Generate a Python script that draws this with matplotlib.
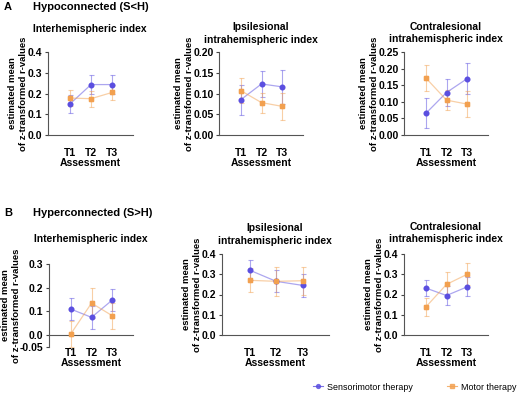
import matplotlib
matplotlib.use("Agg")
import matplotlib.pyplot as plt
import numpy as np

plt.rcParams['font.family'] = ['Liberation Sans', 'DejaVu Sans']

W, H = 520, 394

timepoints = ["T1", "T2", "T3"]
x = np.array([1, 2, 3])

# estimated means and error half-widths, per panel
a1_sens = [0.150, 0.243, 0.243]
a1_sens_err = [0.045, 0.047, 0.046]
a1_mot = [0.178, 0.175, 0.205]
a1_mot_err = [0.037, 0.038, 0.037]

a2_sens = [0.085, 0.123, 0.116]
a2_sens_err = [0.036, 0.032, 0.041]
a2_mot = [0.107, 0.078, 0.069]
a2_mot_err = [0.030, 0.024, 0.033]

a3_sens = [0.065, 0.128, 0.170]
a3_sens_err = [0.045, 0.041, 0.048]
a3_mot = [0.172, 0.105, 0.093]
a3_mot_err = [0.038, 0.030, 0.040]

b1_sens = [0.110, 0.075, 0.148]
b1_sens_err = [0.047, 0.047, 0.045]
b1_mot = [0.005, 0.135, 0.082]
b1_mot_err = [0.055, 0.062, 0.055]

b2_sens = [0.320, 0.265, 0.245]
b2_sens_err = [0.048, 0.055, 0.055]
b2_mot = [0.270, 0.265, 0.268]
b2_mot_err = [0.060, 0.072, 0.068]

b3_sens = [0.232, 0.195, 0.238]
b3_sens_err = [0.038, 0.047, 0.047]
b3_mot = [0.138, 0.250, 0.300]
b3_mot_err = [0.043, 0.061, 0.055]

blue = "#5b4fe0"
orange = "#f2a04f"


def px_axes(x0, x1, ytop, ybot):
    return [x0 / W, 1 - ybot / H, (x1 - x0) / W, (ybot - ytop) / H]


def panel(fig, rect, sens, sens_err, mot, mot_err, ylim, yticks, yticklabels,
          title, title_xy, ylabel_dx, zero_line=False):
    ax = fig.add_axes(rect)
    if zero_line:
        ax.spines["bottom"].set_position(("data", 0))
    ax.errorbar(x, sens, yerr=sens_err, color=blue, marker="o", ms=3.2,
                lw=0.9, elinewidth=0.8, capsize=1.8, capthick=0.8, alpha=0.5,
                zorder=3)
    ax.plot(x, sens, "o", color=blue, ms=3.2, zorder=4)
    ax.errorbar(x, mot, yerr=mot_err, color=orange, marker="s", ms=3.2,
                lw=0.9, elinewidth=0.8, capsize=1.8, capthick=0.8, alpha=0.5,
                zorder=3)
    ax.plot(x, mot, "s", color=orange, ms=3.2, zorder=4)
    ax.set_xlim(-0.05, 4.0)
    ax.set_ylim(*ylim)
    ax.set_yticks(yticks)
    ax.set_yticklabels(yticklabels, fontsize=7.5, fontweight="bold")
    ax.set_xticks(x)
    ax.set_xticklabels(timepoints, fontsize=7.5, fontweight="bold")
    ax.tick_params(axis="x", length=0, pad=9)
    ax.tick_params(axis="y", length=2.5, width=0.8, pad=1.5, color="#444444")
    for s in ["top", "right"]:
        ax.spines[s].set_visible(False)
    for s in ["left", "bottom"]:
        ax.spines[s].set_color("#555555")
        ax.spines[s].set_linewidth(0.8)
    ax.set_xlabel("Assessment", fontsize=7.5, fontweight="bold", labelpad=0)
    ax.set_ylabel("estimated mean\nof z-transformed r-values", fontsize=6.8,
                  fontweight="bold", linespacing=1.3, va="center")
    ax.yaxis.set_label_coords(-ylabel_dx / (rect[2] * W), 0.5)
    fig.text(title_xy[0] / W, 1 - title_xy[1] / H, title, ha="center",
             va="center", fontsize=7.4, fontweight="bold", linespacing=1.3)
    return ax


fig = plt.figure(figsize=(W / 100, H / 100), dpi=100)

fig.text(4 / W, 1 - 7 / H, "A", fontsize=8, fontweight="bold", va="center")
fig.text(33 / W, 1 - 7 / H, "Hypoconnected (S<H)", fontsize=8,
         fontweight="bold", va="center")
fig.text(4 / W, 1 - 213 / H, "B", fontsize=8, fontweight="bold", va="center")
fig.text(33 / W, 1 - 213 / H, "Hyperconnected (S>H)", fontsize=8,
         fontweight="bold", va="center")

panel(fig, px_axes(48, 133, 52, 135), a1_sens, a1_sens_err, a1_mot, a1_mot_err,
      (0, 0.4), [0, 0.1, 0.2, 0.3, 0.4], ["0.0", "0.1", "0.2", "0.3", "0.4"],
      "Interhemispheric index", (90, 28.5), 30)
panel(fig, px_axes(219, 303, 52, 135), a2_sens, a2_sens_err, a2_mot, a2_mot_err,
      (0, 0.2), [0, 0.05, 0.1, 0.15, 0.2],
      ["0.00", "0.05", "0.10", "0.15", "0.20"],
      "Ipsilesional\nintrahemispheric index", (261, 33.5), 35)
panel(fig, px_axes(404, 488, 52, 135), a3_sens, a3_sens_err, a3_mot, a3_mot_err,
      (0, 0.25), [0, 0.05, 0.1, 0.15, 0.2, 0.25],
      ["0.00", "0.05", "0.10", "0.15", "0.20", "0.25"],
      "Contralesional\nintrahemispheric index", (446, 33), 35)

panel(fig, px_axes(49, 133, 264, 347), b1_sens, b1_sens_err, b1_mot, b1_mot_err,
      (-0.05, 0.3), [-0.05, 0, 0.1, 0.2, 0.3],
      ["-0.05", "0.0", "0.1", "0.2", "0.3"],
      "Interhemispheric index", (91, 239), 38, zero_line=True)
panel(fig, px_axes(222, 329, 254, 335), b2_sens, b2_sens_err, b2_mot, b2_mot_err,
      (0, 0.4), [0, 0.1, 0.2, 0.3, 0.4], ["0.0", "0.1", "0.2", "0.3", "0.4"],
      "Ipsilesional\nintrahemispheric index", (275, 234.5), 30)
panel(fig, px_axes(404, 488, 254, 335), b3_sens, b3_sens_err, b3_mot, b3_mot_err,
      (0, 0.4), [0, 0.1, 0.2, 0.3, 0.4], ["0.0", "0.1", "0.2", "0.3", "0.4"],
      "Contralesional\nintrahemispheric index", (446, 233), 30)

h1 = plt.Line2D([], [], color=blue, marker="o", ms=2.8, lw=0.8, alpha=0.8)
h2 = plt.Line2D([], [], color=orange, marker="s", ms=2.8, lw=0.8, alpha=0.8)
fig.legend([h1, h2], ["Sensorimotor therapy", "Motor therapy"], ncol=2,
           loc="center left", bbox_to_anchor=(313 / W, 1 - 387 / H),
           frameon=False, fontsize=6.4, handlelength=1.1, handletextpad=0.5,
           columnspacing=3.8, borderaxespad=0, borderpad=0)

fig.savefig("out.png", dpi=100)
